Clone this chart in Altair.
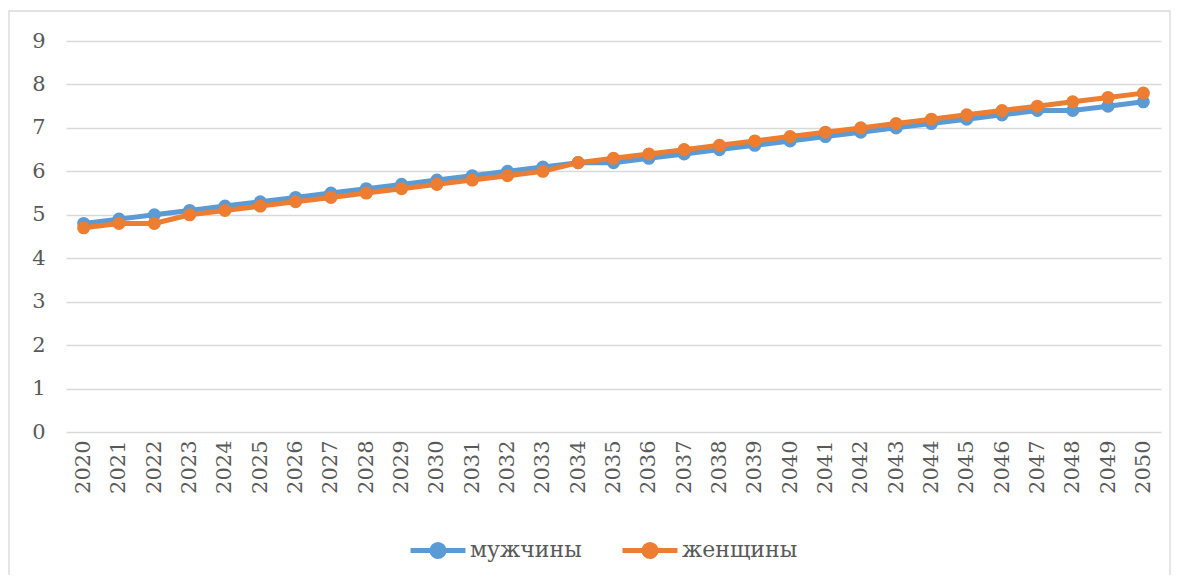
import altair as alt
import pandas as pd

years = [str(y) for y in range(2020, 2051)]
men = [4.8, 4.9, 5.0, 5.1, 5.2, 5.3, 5.4, 5.5, 5.6, 5.7, 5.8, 5.9, 6.0, 6.1, 6.2, 6.2,
       6.3, 6.4, 6.5, 6.6, 6.7, 6.8, 6.9, 7.0, 7.1, 7.2, 7.3, 7.4, 7.4, 7.5, 7.6]
women = [4.7, 4.8, 4.8, 5.0, 5.1, 5.2, 5.3, 5.4, 5.5, 5.6, 5.7, 5.8, 5.9, 6.0, 6.2, 6.3,
         6.4, 6.5, 6.6, 6.7, 6.8, 6.9, 7.0, 7.1, 7.2, 7.3, 7.4, 7.5, 7.6, 7.7, 7.8]
series = ["мужчины", "женщины"]
colors = ["#5B9BD5", "#ED7D31"]

rows = []
for i, y in enumerate(years):
    rows.append({"year": y, "value": men[i], "s": series[0], "o": 0})
for i, y in enumerate(years):
    rows.append({"year": y, "value": women[i], "s": series[1], "o": 1})
df = pd.DataFrame(rows)

FONT = "DejaVu Serif"
GREY = "#595959"

legend_symbol = ("M-1,0H1 M-0.22,0 A0.22,0.22 0 1,0 0.22,0 "
                 "A0.22,0.22 0 1,0 -0.22,0 Z")

base = alt.Chart(df)

lines = base.mark_line(strokeWidth=5, point=alt.OverlayMarkDef(size=170, filled=True, opacity=1)).encode(
    x=alt.X("year:N", sort=years, title=None,
            scale=alt.Scale(paddingInner=0, paddingOuter=0.5),
            axis=alt.Axis(labelAngle=-90, ticks=False, domain=False, grid=False,
                          labelPadding=8)),
    y=alt.Y("value:Q", title=None,
            scale=alt.Scale(domain=[0, 9], nice=False),
            axis=alt.Axis(values=list(range(10)), ticks=False, domain=False,
                          gridColor="#D9D9D9", gridWidth=1.3, labelPadding=21)),
    color=alt.Color("s:N", scale=alt.Scale(domain=series, range=colors), title=None,
                    legend=alt.Legend(orient="none", legendX=342, legendY=479,
                                      direction="horizontal",
                                      symbolType=legend_symbol, symbolSize=3025,
                                      symbolStrokeWidth=5, symbolOpacity=1,
                                      columnPadding=30, labelOffset=2)),
    order=alt.Order("o:Q"),
    detail="s:N",
)

frame = alt.Chart(pd.DataFrame({"a": [0]})).mark_rect(
    fill=None, stroke="#D9D9D9", strokeWidth=1.3, clip=False
).encode(
    x=alt.value(-57), x2=alt.value(1104), y=alt.value(-30), y2=alt.value(538)
)

chart = alt.layer(lines, frame).properties(
    width=1095, height=391,
    autosize=alt.AutoSizeParams(type="none"),
    padding={"left": 58, "top": 33, "right": 10, "bottom": 143},
).configure_view(stroke=None).configure_axis(
    labelFont=FONT, labelFontSize=21, labelColor=GREY
).configure_legend(
    labelFont=FONT, labelFontSize=22, labelColor=GREY
)

chart.save("out.html", embed_options={"renderer": "svg", "actions": False})
